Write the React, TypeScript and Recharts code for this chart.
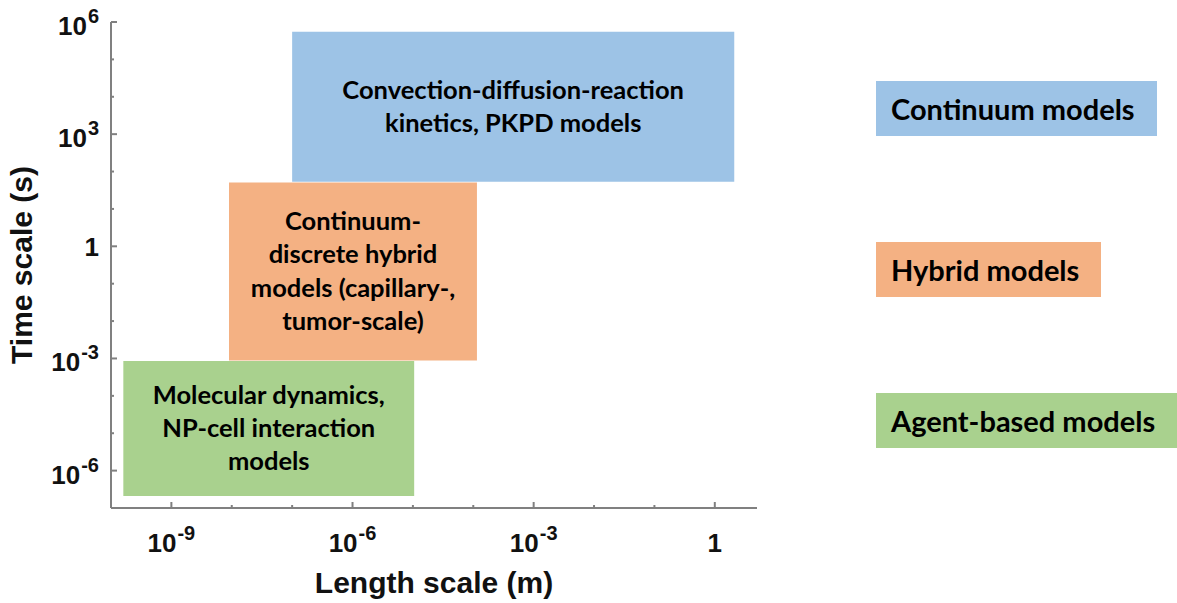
import React from "react";
import { ScatterChart, XAxis, YAxis, ReferenceArea, Legend } from "recharts";

// Modelling regimes: length range (m) and time range (s)
const modelNames = ["Continuum models", "Hybrid models", "Agent-based models"];
const modelColors = ["#9DC3E6", "#F4B183", "#A9D18E"];
const lengthFrom = [1e-7, 9e-9, 1.6e-10];
const lengthTo = [2.1, 1.15e-4, 1.05e-5];
const timeFrom = [53, 8.8e-4, 2.1e-7];
const timeTo = [5.5e5, 51, 8.5e-4];
const modelLabels = [
  ["Convection-diffusion-reaction", "kinetics, PKPD models"],
  ["Continuum-", "discrete hybrid", "models (capillary-,", "tumor-scale)"],
  ["Molecular dynamics,", "NP-cell interaction", "models"],
];

// axis ticks (one per decade), labels every third decade
const lengthTicks = [1e-9, 1e-8, 1e-7, 1e-6, 1e-5, 1e-4, 1e-3, 1e-2, 1e-1, 1];
const lengthLabelled = [1e-9, 1e-6, 1e-3, 1];
const timeTicks = [1e-6, 1e-5, 1e-4, 1e-3, 1e-2, 1e-1, 1, 10, 100, 1e3, 1e4, 1e5, 1e6];
const timeLabelled = [1e-6, 1e-3, 1, 1e3, 1e6];

const AXIS_COLOR = "#808080";
const AXIS_FONT = "'Liberation Sans', Arial, sans-serif";
const BOX_FONT = "Lato, 'Open Sans', sans-serif";

// legend box positions (right column)
const legendTops = [81, 242, 393];

const PowerLabel = ({ x, y, value, anchor }: any) => {
  const exp = Math.round(Math.log10(value));
  if (exp === 0) {
    return (
      <text x={x} y={y} textAnchor={anchor} fontFamily={AXIS_FONT} fontWeight="bold" fontSize={26} fill="#111">
        1
      </text>
    );
  }
  return (
    <text x={x} y={y} textAnchor={anchor} fontFamily={AXIS_FONT} fontWeight="bold" fontSize={26} fill="#111">
      <tspan>10</tspan>
      <tspan dx={1} dy={-12} fontSize={20}>
        {exp}
      </tspan>
    </text>
  );
};

const LengthTick = (props: any) => {
  const { x, y, payload } = props;
  const major = lengthLabelled.includes(payload.value);
  return (
    <g>
      <line x1={x} x2={x} y1={y} y2={y - (major ? 6 : 3)} stroke={AXIS_COLOR} strokeWidth={2} />
      {major && <PowerLabel x={x} y={y + 44} value={payload.value} anchor="middle" />}
    </g>
  );
};

const TimeTick = (props: any) => {
  const { x, y, payload } = props;
  const major = timeLabelled.includes(payload.value);
  const exp = Math.round(Math.log10(payload.value));
  return (
    <g>
      <line x1={x} x2={x + (major ? 6 : 3)} y1={y} y2={y} stroke={AXIS_COLOR} strokeWidth={2} />
      {major && <PowerLabel x={x - 12} y={y + (exp === 0 ? 10 : 13)} value={payload.value} anchor="end" />}
    </g>
  );
};

const RegionLabel = ({ viewBox, lines }: any) => {
  const { x, y, width, height } = viewBox;
  const lh = 33.4;
  const cx = x + width / 2;
  const first = y + height / 2 - ((lines.length - 1) / 2) * lh + 8.5;
  return (
    <text textAnchor="middle" fontFamily={BOX_FONT} fontWeight="bold" fontSize={25.5} fill="#000">
      {lines.map((t: string, i: number) => (
        <tspan key={i} x={cx} y={first + i * lh}>
          {t}
        </tspan>
      ))}
    </text>
  );
};

const ModelLegend = () => (
  <div style={{ position: "relative", width: 301, height: 603 }}>
    {modelNames.map((name, i) => (
      <div
        key={name}
        style={{
          position: "absolute",
          left: 0,
          top: legendTops[i],
          height: 55,
          lineHeight: "55px",
          padding: "0 22px 0 15px",
          background: modelColors[i],
          fontFamily: BOX_FONT,
          fontWeight: "bold",
          fontSize: 29,
          color: "#000",
          whiteSpace: "nowrap",
        }}
      >
        {name}
      </div>
    ))}
  </div>
);

export default function App() {
  return (
    <div style={{ position: "absolute", left: 0, top: 0, background: "#fff" }}>
      <ScatterChart width={1177} height={603} margin={{ top: 22, right: 420, bottom: 35, left: 51 }}>
        <XAxis
          type="number"
          dataKey="x"
          scale="log"
          domain={[1e-10, 5]}
          allowDataOverflow
          ticks={lengthTicks}
          interval={0}
          height={60}
          tickSize={0}
          tickMargin={0}
          tickLine={false}
          tick={<LengthTick />}
          axisLine={{ stroke: AXIS_COLOR, strokeWidth: 2 }}
          label={{
            value: "Length scale (m)",
            position: "insideBottom",
            offset: -25,
            style: { fontFamily: AXIS_FONT, fontWeight: "bold", fontSize: 30, fill: "#111" },
          }}
        />
        <YAxis
          type="number"
          dataKey="y"
          scale="log"
          domain={[1e-7, 1e6]}
          allowDataOverflow
          ticks={timeTicks}
          interval={0}
          width={60}
          tickSize={0}
          tickMargin={0}
          tickLine={false}
          tick={<TimeTick />}
          axisLine={{ stroke: AXIS_COLOR, strokeWidth: 2 }}
          label={{
            value: "Time scale (s)",
            angle: -90,
            position: "insideLeft",
            offset: -30,
            style: { textAnchor: "middle", fontFamily: AXIS_FONT, fontWeight: "bold", fontSize: 30, fill: "#111" },
          }}
        />
        {modelNames.map((name, i) => (
          <ReferenceArea
            key={name}
            x1={lengthFrom[i]}
            x2={lengthTo[i]}
            y1={timeFrom[i]}
            y2={timeTo[i]}
            fill={modelColors[i]}
            fillOpacity={1}
            stroke="none"
            label={<RegionLabel lines={modelLabels[i]} />}
          />
        ))}
        <Legend
          layout="vertical"
          align="center"
          verticalAlign="middle"
          content={() => <ModelLegend />}
          wrapperStyle={{ left: 876, top: 0, width: 301, height: 603 }}
        />
      </ScatterChart>
    </div>
  );
}
